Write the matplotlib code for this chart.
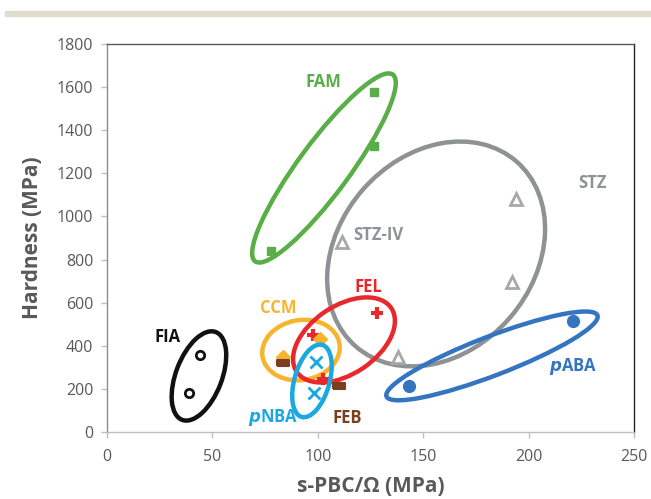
import matplotlib
matplotlib.use("Agg")
import matplotlib.pyplot as plt
from matplotlib.patches import Ellipse, Rectangle
from matplotlib.transforms import ScaledTranslation

plt.rcParams['font.family'] = ['Open Sans', 'DejaVu Sans']

# --- データ (s-PBC/Ω, Hardness) ---
fam_x = [77.8, 126.7, 126.7]
fam_y = [839, 1577, 1326]
stz_x = [111.3, 194.0, 192.0, 138.2]
stz_y = [883, 1080, 697, 350]
fel_x = [97.9, 127.9, 102.6]
fel_y = [450, 553, 248]
ccm_x = [83.6, 101.0]
ccm_y = [347, 430]
feb_x = [83.6, 110.2]
feb_y = [318, 215]
pnba_x = [99.0, 98.3]
pnba_y = [324, 179]
fia_x = [44.1, 39.1]
fia_y = [357, 179]
paba_x = [143.4, 220.9]
paba_y = [213, 515]

x_ticks = [0, 50, 100, 150, 200, 250]
y_ticks = [0, 200, 400, 600, 800, 1000, 1200, 1400, 1600, 1800]

# グループを囲む楕円: (中心x, 中心y, 幅[inch], 高さ[inch], 角度, 色, zorder)
groups = [
    (156.1, 826, 2.45, 1.95, 49, '#8e9294', 2),
    (102.9, 1225, 2.32, 0.51, 53.6, '#5aae47', 2.1),
    (43.6, 260, 0.94, 0.46, 69, '#111111', 2),
    (92.0, 380, 0.78, 0.60, 10, '#f9b42d', 2.2),
    (112.4, 427, 1.14, 0.68, 34, '#e8282d', 2.3),
    (182.6, 353, 2.26, 0.39, 21, '#3474c0', 2.4),
    (97.2, 237, 0.75, 0.35, 74, '#1ba8e0', 3.5),
]

fig = plt.figure(figsize=(6.51, 4.99), dpi=100)
ax = fig.add_axes([0.1644, 0.1343, 0.8096, 0.7775])

# 上部の帯
fig.patches.append(Rectangle((0.008, 1 - 15.7 / 499), 0.992, 5.0 / 499,
                             transform=fig.transFigure, color='#e1ddcc', zorder=0))

for cx, cy, w, h, ang, col, z in groups:
    tr = fig.dpi_scale_trans + ScaledTranslation(cx, cy, ax.transData)
    ax.add_patch(Ellipse((0, 0), w, h, angle=ang, transform=tr, fill=False,
                         edgecolor=col, linewidth=3.2, zorder=z))

feb_marker = [(-1, -0.55), (1, -0.55), (1, 0.55), (-1, 0.55), (-1, -0.55)]

ax.plot(fam_x, fam_y, 's', color='#5aae47', markersize=6, zorder=3)
ax.plot(stz_x, stz_y, '^', markerfacecolor='white', markeredgecolor='#a6a8aa',
        markeredgewidth=2, markersize=8, zorder=3)
ax.plot(fel_x, fel_y, '+', color='#e8282d', markeredgewidth=3, markersize=9, zorder=3)
ax.plot(ccm_x, ccm_y, 'D', color='#f9b42d', markersize=7.5, zorder=3)
ax.plot(feb_x, feb_y, marker=feb_marker, linestyle='none', color='#7b3f1d',
        markersize=8.5, markeredgewidth=1.5, zorder=3.2)
ax.plot(pnba_x, pnba_y, 'x', color='#1ba8e0', markeredgewidth=2, markersize=8, zorder=3)
ax.plot(fia_x, fia_y, 'o', markerfacecolor='white', markeredgecolor='#111111',
        markeredgewidth=2, markersize=6, zorder=3)
ax.plot(paba_x, paba_y, 'o', color='#3474c0', markersize=8.5, zorder=3)

# ラベル
lab = dict(fontsize=12, fontweight='bold', ha='center', va='center', zorder=5)
ax.text(102.5, 1624, 'FAM', color='#5aae47', **lab)
ax.text(230.5, 1155, 'STZ', color='#8e9294', **lab)
ax.text(128.6, 914, 'STZ-IV', color='#8e9294', **lab)
ax.text(123.8, 673, 'FEL', color='#e8282d', **lab)
ax.text(81.1, 575, 'CCM', color='#f9b42d', **lab)
ax.text(28.9, 441, 'FIA', color='#111111', **lab)
ax.text(78.7, 65, r'$\mathbfit{p}$NBA', color='#1ba8e0', **lab)
ax.text(113.9, 65, 'FEB', color='#7b3f1d', **lab)
ax.text(221.0, 302, r'$\mathbfit{p}$ABA', color='#3474c0', **lab)

ax.set_xlim(0, 250)
ax.set_ylim(0, 1800)
ax.set_xticks(x_ticks)
ax.set_yticks(y_ticks)
ax.tick_params(axis='both', direction='out', length=4, width=1, colors='#bfbfbf',
               labelcolor='#595959', labelsize=11.5)
ax.tick_params(axis='x', pad=8)
ax.tick_params(axis='y', pad=6)

ax.spines['left'].set_color('#8c8c8c')
ax.spines['bottom'].set_color('#bfbfbf')
ax.spines['top'].set_color('#595959')
ax.spines['right'].set_color('#222222')
for s in ax.spines.values():
    s.set_linewidth(1)

ax.set_xlabel('s-PBC/Ω (MPa)', fontsize=15, fontweight='bold', color='#595959', labelpad=8)
ax.set_ylabel('Hardness (MPa)', fontsize=15, fontweight='bold', color='#595959', labelpad=10)

fig.savefig('out.png', dpi=100)
